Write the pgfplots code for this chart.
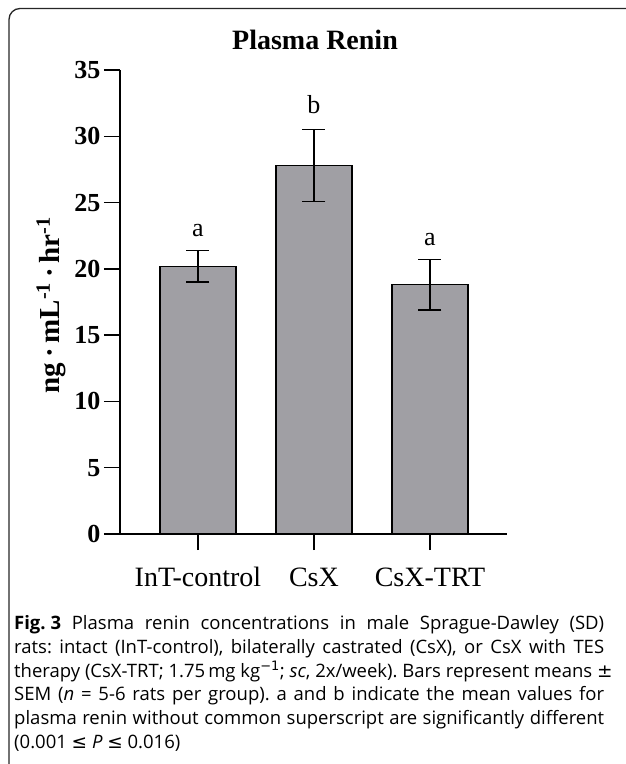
\documentclass[border=0pt]{standalone}
\usepackage{fontspec}
\setmainfont{Liberation Serif}
\newfontfamily\capfont{Open Sans}
\newfontfamily\symfont{DejaVu Sans}
\usepackage{pgfplots}
\pgfplotsset{compat=1.18}
\definecolor{barcol}{RGB}{160,159,164}
\frenchspacing
\begin{document}
\begin{tikzpicture}[x=1pt,y=1pt]
\path[use as bounding box] (0,-764) rectangle (625,0);
\draw[line width=1.3pt, rounded corners=11pt, black!85] (9,-790) -- (9,-8.5) -- (660,-8.5);
\node[font=\fontsize{28}{32}\selectfont\bfseries] at (315,-40) {Plasma Renin};
\node[font=\fontsize{29}{34}\selectfont\bfseries, rotate=90] at (51,-305) {ng\,·\,mL\textsuperscript{-1}\,·\,hr\textsuperscript{-1}};
\begin{axis}[
  at={(120pt,-534pt)}, anchor=south west,
  scale only axis, width=387pt, height=464pt,
  xmin=-0.672, xmax=2.664, ymin=0, ymax=35,
  axis lines*=left,
  axis line style={line width=1.5pt},
  xtick={0,1,2}, xticklabels={InT-control,CsX,CsX-TRT},
  ytick={0,5,10,15,20,25,30,35},
  tick align=outside, major tick length=16pt,
  tick style={line width=1.5pt, black},
  /pgf/number format/assume math mode=true,
  yticklabel style={font=\fontsize{26}{30}\selectfont\bfseries},
  xticklabel style={font=\fontsize{28}{32}\selectfont, yshift=-14pt},
  clip=false,
]
\addplot[ybar, bar width=76pt, fill=barcol, draw=black, line width=1.3pt,
  error bars/.cd, y dir=both, y explicit,
  error bar style={line width=1.5pt, black},
  error mark options={rotate=90, mark size=11.5pt, line width=1.5pt, black}]
  coordinates {(0,20.2) +- (0,1.2) (1,27.8) +- (0,2.7) (2,18.8) +- (0,1.9)};
\node[font=\fontsize{26}{30}\selectfont] at (axis cs:0,22.9) {a};
\node[font=\fontsize{26}{30}\selectfont] at (axis cs:1,32.4) {b};
\node[font=\fontsize{26}{30}\selectfont] at (axis cs:2,22.2) {a};
\end{axis}
\begin{scope}[every node/.style={anchor=base west, inner sep=0pt, font=\capfont\fontsize{18.5}{22}\selectfont}]
\node at (14,-629) {\makebox[590pt][s]{\mbox{\textbf{Fig. 3}} Plasma renin concentrations in male Sprague-Dawley (SD)}};
\node at (14,-653) {\makebox[590pt][s]{rats: intact (InT-control), bilaterally castrated (CsX), or CsX with TES}};
\node at (14,-677) {therapy (CsX-TRT; 1.75\,mg kg\textsuperscript{\symfont −1}; \textit{sc}, 2x/week). Bars represent means {\symfont ±}};
\node at (14,-700) {\makebox[590pt][s]{SEM (\textit{n} = 5-6 rats per group). a and b indicate the mean values for}};
\node at (14,-724) {\makebox[590pt][s]{plasma renin without common superscript are significantly different}};
\node at (14,-748) {(0.001 {\symfont ≤} \textit{P} {\symfont ≤} 0.016)};
\end{scope}
\end{tikzpicture}
\end{document}
